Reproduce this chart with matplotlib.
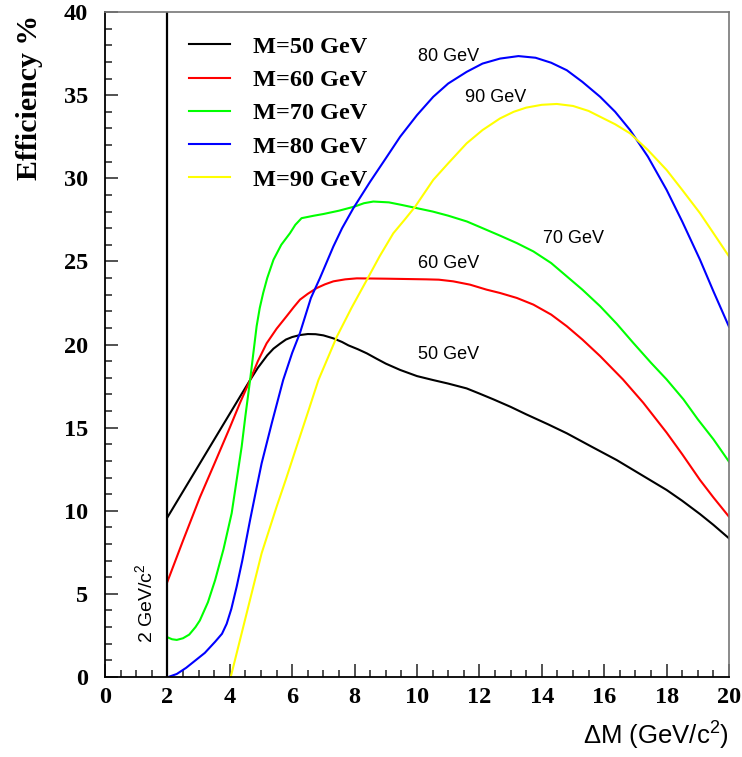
import numpy as np
import matplotlib.pyplot as plt
from matplotlib.ticker import MultipleLocator

plt.rcParams['mathtext.fontset'] = 'custom'
plt.rcParams['mathtext.rm'] = 'Liberation Sans'

# efficiency curves vs mass splitting, one per mass hypothesis
x50 = [2.0, 2.5, 3.0, 3.5, 4.0, 4.33, 4.65, 4.9, 5.2, 5.4, 5.61, 5.8, 6.0, 6.25, 6.5, 6.75, 7.0,
       7.32, 7.6, 7.8, 8.1, 8.39, 8.7, 9.0, 9.46, 10.0, 10.52, 11.0, 11.59, 12.0, 12.45, 13.0,
       13.5, 14.2, 14.8, 15.6, 16.4, 17.2, 18.0, 18.5, 19.07, 19.5, 20.0]
y50 = [9.6, 11.16, 12.72, 14.28, 15.84, 16.87, 17.86, 18.6, 19.35, 19.75, 20.05, 20.3, 20.45,
       20.57, 20.63, 20.62, 20.55, 20.37, 20.15, 19.95, 19.72, 19.47, 19.15, 18.85, 18.47, 18.1,
       17.86, 17.65, 17.36, 17.05, 16.7, 16.25, 15.8, 15.2, 14.66, 13.85, 13.05, 12.15, 11.25,
       10.6, 9.8, 9.15, 8.34]

x60 = [2.0, 2.5, 3.04, 3.5, 4.0, 4.33, 4.65, 4.9, 5.18, 5.5, 5.82, 6.05, 6.25, 6.5, 6.79, 7.05,
       7.32, 7.7, 8.07, 9.0, 10.3, 10.7, 11.16, 11.7, 12.23, 12.66, 13.2, 13.73, 14.3, 14.8, 15.3,
       15.87, 16.6, 17.25, 18.0, 18.5, 19.07, 19.5, 20.0]
y60 = [5.73, 8.2, 10.8, 12.8, 15.0, 16.5, 17.86, 19.0, 20.07, 20.95, 21.7, 22.25, 22.7, 23.05,
       23.4, 23.62, 23.8, 23.92, 23.98, 23.96, 23.92, 23.9, 23.8, 23.6, 23.3, 23.1, 22.8, 22.4,
       21.8, 21.1, 20.3, 19.3, 17.9, 16.5, 14.7, 13.4, 11.85, 10.8, 9.64]

x70 = [2.0, 2.15, 2.3, 2.5, 2.7, 2.9, 3.04, 3.3, 3.53, 3.8, 4.06, 4.2, 4.38, 4.5, 4.65, 4.86,
       4.96, 5.07, 5.2, 5.4, 5.65, 5.93, 6.1, 6.3, 6.7, 7.0, 7.5, 8.0, 8.3, 8.6, 9.1, 9.5, 10.0,
       10.5, 11.0, 11.6, 12.1, 12.66, 13.2, 13.73, 14.3, 14.8, 15.3, 15.87, 16.4, 16.93, 17.5,
       18.0, 18.54, 19.0, 19.5, 20.0]
y70 = [2.39, 2.27, 2.23, 2.33, 2.55, 3.0, 3.4, 4.5, 5.83, 7.7, 9.85, 11.6, 13.85, 15.7, 17.86,
       21.1, 22.2, 23.1, 24.0, 25.1, 26.0, 26.7, 27.2, 27.6, 27.75, 27.85, 28.05, 28.3, 28.5,
       28.6, 28.55, 28.4, 28.2, 28.0, 27.75, 27.4, 27.0, 26.55, 26.1, 25.6, 24.9, 24.1, 23.3,
       22.3, 21.25, 20.1, 18.9, 17.9, 16.7, 15.5, 14.3, 12.95]

x80 = [2.03, 2.3, 2.6, 2.9, 3.2, 3.53, 3.75, 3.9, 4.05, 4.22, 4.4, 4.65, 4.85, 5.02, 5.35, 5.71,
       6.0, 6.25, 6.6, 6.89, 7.32, 7.6, 7.96, 8.5, 9.0, 9.46, 10.0, 10.52, 11.0, 11.59, 12.1,
       12.66, 13.25, 13.8, 14.3, 14.8, 15.3, 15.87, 16.35, 16.83, 17.4, 18.0, 18.5, 19.07, 19.5, 20.0]
y80 = [0.0, 0.18, 0.55, 1.0, 1.45, 2.12, 2.6, 3.2, 4.1, 5.43, 7.0, 9.44, 11.3, 12.85, 15.3, 17.86,
       19.5, 20.7, 22.8, 24.0, 25.9, 27.0, 28.2, 29.8, 31.2, 32.5, 33.8, 34.9, 35.7, 36.4, 36.9,
       37.2, 37.35, 37.25, 36.95, 36.5, 35.8, 34.9, 34.0, 32.9, 31.3, 29.3, 27.4, 25.1, 23.2, 21.07]

x90 = [4.03, 4.54, 5.02, 5.5, 5.8, 6.14, 6.5, 6.84, 7.43, 7.9, 8.39, 8.8, 9.24, 9.6, 9.94, 10.52,
       11.0, 11.59, 12.1, 12.66, 13.1, 13.5, 14.0, 14.48, 15.0, 15.5, 15.87, 16.35, 16.83, 17.4,
       18.0, 18.5, 19.07, 19.5, 20.0]
y90 = [0.0, 3.83, 7.44, 10.24, 11.9, 13.85, 15.9, 17.86, 20.47, 22.2, 23.88, 25.3, 26.69, 27.5,
       28.29, 29.9, 30.9, 32.1, 32.9, 33.6, 34.0, 34.25, 34.42, 34.47, 34.35, 34.05, 33.7, 33.25,
       32.7, 31.7, 30.5, 29.3, 27.9, 26.7, 25.3]

masses = [50, 60, 70, 80, 90]
colors = ['black', '#ff0000', '#00ff00', '#0000ff', '#ffff00']
curves = [(x50, y50), (x60, y60), (x70, y70), (x80, y80), (x90, y90)]

# curve labels: text, x, y (data units)
tags = [('50 GeV', 10.03, 19.37), ('60 GeV', 10.03, 24.9), ('70 GeV', 14.04, 26.35),
        ('80 GeV', 10.03, 37.35), ('90 GeV', 11.54, 34.83)]

fig = plt.figure(figsize=(7.42, 7.57), dpi=100)
ax = fig.add_axes([0.1415, 0.1057, 0.841, 0.8784])

for m, c, (xs, ys) in zip(masses, colors, curves):
    ax.plot(xs, ys, color=c, lw=1.5, label='M=%d GeV' % m)

ax.axvline(2, color='black', lw=1.6)

for t, tx, ty in tags:
    ax.text(tx, ty, t, fontsize=13, family='Liberation Sans', va='center', ha='left')

ax.text(1.31, 4.45, r'2 GeV/c$^{\mathrm{2}}$', rotation=90, fontsize=14,
        family='Liberation Sans', ha='center', va='center')

ax.set_xlim(0, 20)
ax.set_ylim(0, 40)
ax.xaxis.set_major_locator(MultipleLocator(2))
ax.xaxis.set_minor_locator(MultipleLocator(0.5))
ax.yaxis.set_major_locator(MultipleLocator(5))
ax.yaxis.set_minor_locator(MultipleLocator(1))
ax.tick_params(which='both', direction='in', top=False, right=False, color='#333333', width=1.2)
ax.tick_params(which='major', length=9.5)
ax.tick_params(which='minor', length=5)
ax.tick_params(axis='x', pad=7)
ax.tick_params(axis='y', pad=12)
for lab in ax.get_xticklabels() + ax.get_yticklabels():
    lab.set_family('Liberation Serif')
    lab.set_weight('bold')
    lab.set_fontsize(17.5)

for s in ['left', 'bottom']:
    ax.spines[s].set_linewidth(1.3)
for s in ['top', 'right']:
    ax.spines[s].set_color('#777777')
    ax.spines[s].set_linewidth(1.2)

ax.set_ylabel('Efficiency %', family='Liberation Serif', weight='bold', fontsize=21.5, loc='top')
ax.yaxis.set_label_coords(-0.1, 0.995)

ax.text(1.0, -0.087, r'$\Delta$M (GeV/c$^{\mathrm{2}}$)', transform=ax.transAxes,
        family='Liberation Sans', fontsize=18.5, ha='right', va='center')

ax.legend(loc='upper left', bbox_to_anchor=(0.1346, 0.964), frameon=False, borderpad=0,
          borderaxespad=0, handlelength=1.7, handletextpad=0.95, labelspacing=0.46,
          prop={'family': 'Liberation Serif', 'weight': 'bold', 'size': 17.5})

plt.savefig('out.png', dpi=100)
